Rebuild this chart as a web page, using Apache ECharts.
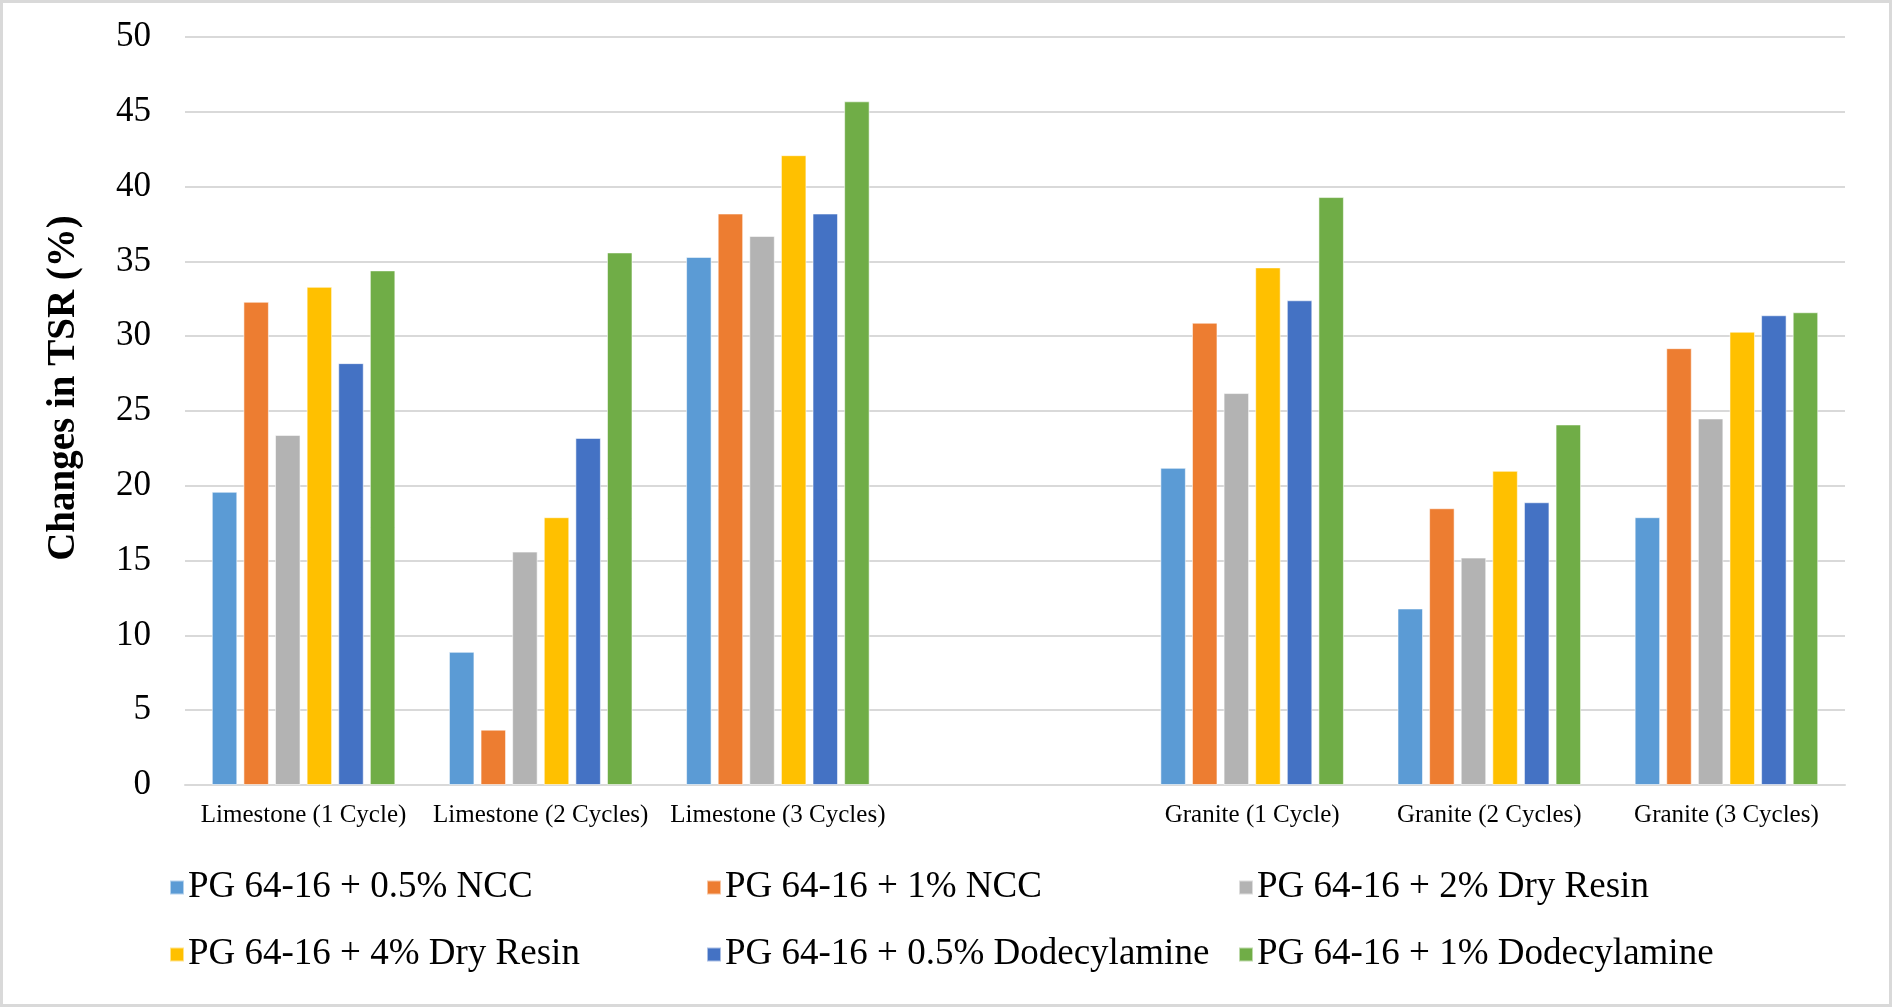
<!DOCTYPE html>
<html>
<head>
<meta charset="utf-8">
<script src="https://cdn.jsdelivr.net/npm/echarts@6/dist/echarts.min.js"></script>
<style>
html,body{margin:0;padding:0;background:#fff;}
#chart{width:1893px;height:1008px;}
</style>
</head>
<body>
<div id="chart"></div>
<script>
const categories = ['Limestone (1 Cycle)', 'Limestone (2 Cycles)', 'Limestone (3 Cycles)', '', 'Granite (1 Cycle)', 'Granite (2 Cycles)', 'Granite (3 Cycles)'];
const seriesNames = ['PG 64-16 + 0.5% NCC', 'PG 64-16 + 1% NCC', 'PG 64-16 + 2% Dry Resin', 'PG 64-16 + 4% Dry Resin', 'PG 64-16 + 0.5% Dodecylamine', 'PG 64-16 + 1% Dodecylamine'];
const ncc05 = [19.6, 8.9, 35.3, null, 21.2, 11.8, 17.9];
const ncc1 = [32.3, 3.7, 38.2, null, 30.9, 18.5, 29.2];
const resin2 = [23.4, 15.6, 36.7, null, 26.2, 15.2, 24.5];
const resin4 = [33.3, 17.9, 42.1, null, 34.6, 21.0, 30.3];
const dodec05 = [28.2, 23.2, 38.2, null, 32.4, 18.9, 31.4];
const dodec1 = [34.4, 35.6, 45.7, null, 39.3, 24.1, 31.6];
const yTicks = [0, 5, 10, 15, 20, 25, 30, 35, 40, 45, 50];
const colors = ['#5B9BD5', '#ED7D31', '#B3B3B3', '#FFC000', '#4472C4', '#70AD47'];

const seriesData = [ncc05, ncc1, resin2, resin4, dodec05, dodec1];
const font = '"Liberation Serif", "Times New Roman", serif';

const legendPos = [[164, 864], [701, 864], [1233, 864], [164, 931], [701, 931], [1233, 931]];

const chart = echarts.init(document.getElementById('chart'));
chart.setOption({
  animation: false,
  backgroundColor: '#fff',
  color: colors,
  grid: { left: 185, right: 48, top: 37, bottom: 223, containLabel: false },
  xAxis: {
    type: 'category',
    data: categories,
    axisLine: { show: true, lineStyle: { color: '#D9D9D9', width: 2 } },
    axisTick: { show: false },
    axisLabel: { color: '#000', fontFamily: font, fontSize: 25, margin: 18, interval: 0 }
  },
  yAxis: {
    type: 'value',
    min: yTicks[0],
    max: yTicks[yTicks.length - 1],
    interval: 5,
    name: 'Changes in TSR (%)',
    nameLocation: 'middle',
    nameRotate: 90,
    nameGap: 102,
    nameTextStyle: { color: '#000', fontFamily: font, fontSize: 39, fontWeight: 'bold', padding: [0, 0, 0, 46] },
    axisLine: { show: false },
    axisTick: { show: false },
    axisLabel: { color: '#000', fontFamily: font, fontSize: 35, margin: 34 },
    splitLine: { lineStyle: { color: '#D9D9D9', width: 2 } }
  },
  legend: seriesNames.map((n, i) => ({
    data: [n],
    left: legendPos[i][0],
    top: legendPos[i][1],
    itemWidth: 14,
    itemHeight: 14,
    itemGap: 5,
    icon: 'rect',
    textStyle: { color: '#000', fontFamily: font, fontSize: 37, padding: [0, 0, 0, -1] }
  })),
  graphic: [{
    type: 'rect',
    shape: { x: 1.5, y: 1.5, width: 1889, height: 1004 },
    style: { fill: 'none', stroke: '#D9D9D9', lineWidth: 3 },
    silent: true
  }],
  series: seriesNames.map((n, i) => ({
    name: n,
    type: 'bar',
    data: seriesData[i],
    barCategoryGap: '22.6%',
    barGap: '24%',
    itemStyle: { color: colors[i], borderColor: 'rgba(255,255,255,0.55)', borderWidth: 1 }
  }))
});
</script>
</body>
</html>
